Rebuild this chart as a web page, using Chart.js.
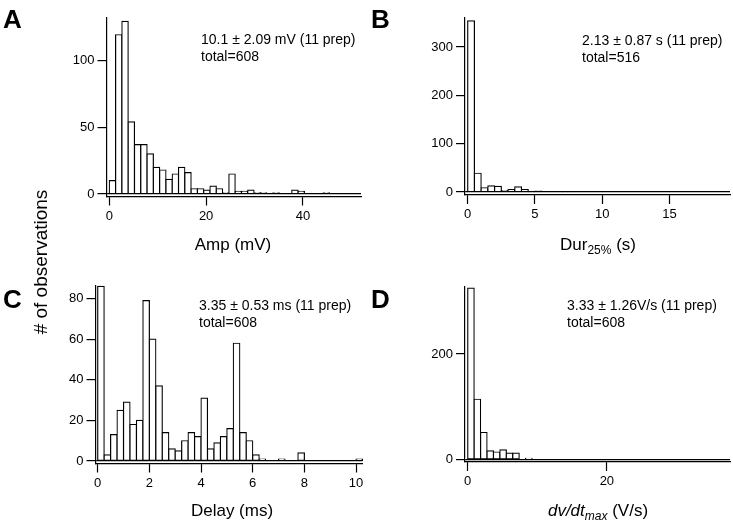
<!DOCTYPE html>
<html>
<head>
<meta charset="utf-8">
<script src="https://cdn.jsdelivr.net/npm/chart.js@4.4.0/dist/chart.umd.min.js"></script>
<style>
  body { margin: 0; background: #fff; }
  #page { position: relative; width: 733px; height: 524px; overflow: hidden;
          font-family: 'Liberation Sans', Arial, sans-serif; color: #000; }
  canvas { position: absolute; left: 0; top: 0; }
  .txt { position: absolute; white-space: nowrap; line-height: 1; }
  .letter { font-weight: bold; font-size: 26px; }
  .note { font-size: 14px; line-height: 17px; }
  .xt { font-size: 17px; transform: translateX(-50%); }
  .yt { font-size: 19px; transform: translate(-50%, -50%) rotate(-90deg); }
  sub { font-size: 12px; vertical-align: -4px; line-height: 0; }
</style>
</head>
<body>
<div id="page">
  <canvas id="chartA" width="733" height="524"></canvas>
  <canvas id="chartB" width="733" height="524"></canvas>
  <canvas id="chartC" width="733" height="524"></canvas>
  <canvas id="chartD" width="733" height="524"></canvas>

  <div class="txt letter" style="left:3px; top:6px;">A</div>
  <div class="txt letter" style="left:371px; top:6px;">B</div>
  <div class="txt letter" style="left:3px; top:286px;">C</div>
  <div class="txt letter" style="left:371px; top:286px;">D</div>

  <div class="txt note" style="left:201px; top:31px;">10.1 ± 2.09 mV (11 prep)<br>total=608</div>
  <div class="txt note" style="left:582px; top:32px;">2.13 ± 0.87 s (11 prep)<br>total=516</div>
  <div class="txt note" style="left:199px; top:297px;">3.35 ± 0.53 ms (11 prep)<br>total=608</div>
  <div class="txt note" style="left:567px; top:297px;">3.33 ± 1.26V/s (11 prep)<br>total=608</div>

  <div class="txt xt" style="left:233px; top:236px;">Amp (mV)</div>
  <div class="txt xt" style="left:598px; top:236px;">Dur<sub>25%</sub> (s)</div>
  <div class="txt xt" style="left:232px; top:502px;">Delay (ms)</div>
  <div class="txt xt" style="left:598px; top:502px;"><i>dv/dt<sub>max</sub></i> (V/s)</div>
  <div class="txt yt" style="left:40px; top:262px;"># of observations</div>
</div>

<script>
// Amp (mV)
const ampBin = 1.3;
const ampCounts = [10, 119, 129, 54, 37, 37, 30, 20, 18, 11, 15, 20, 16, 4, 4, 3, 6, 4, 1, 15,
                   2, 2, 3, 1, 1, 0, 1, 0, 0, 3, 2, 0, 0, 0, 1, 0, 0, 0, 0, 0];
const ampTicksX = [0, 20, 40];
const ampTicksY = [0, 50, 100];

// Dur25% (s)
const durBin = 0.5;
const durCounts = [354, 39, 9, 13, 12, 3, 5, 11, 5, 1, 2, 0, 0, 0, 1, 0, 0, 0, 0, 0,
                   0, 0, 0, 0, 0, 0, 0, 0, 0, 0, 0, 0, 0, 0, 0, 0, 0, 0, 0];
const durTicksX = [0, 5, 10, 15];
const durTicksY = [0, 100, 200, 300];

// Delay (ms)
const delayBin = 0.25;
const delayCounts = [86, 3, 13, 25, 29, 18, 20, 79, 60, 37, 14, 6, 5, 10, 14, 12, 31, 6, 9, 12,
                     16, 58, 14, 10, 3, 1, 0, 0, 1, 0, 0, 4, 0, 0, 0, 0, 0, 0, 0, 0, 1];
const delayTicksX = [0, 2, 4, 6, 8, 10];
const delayTicksY = [0, 20, 40, 60, 80];

// dv/dt max (V/s)
const dvdtBin = 0.925;
const dvdtCounts = [325, 114, 51, 16, 14, 18, 12, 12, 0, 2, 0, 0, 0, 0, 0, 0, 0, 0, 0, 0,
                    0, 0, 0, 0, 0, 0, 0, 0, 0, 0, 0, 0, 0, 0, 0, 0, 0, 0, 0, 0];
const dvdtTicksX = [0, 20];
const dvdtTicksY = [0, 200];

const FONT = "'Liberation Sans', Arial, sans-serif";
const YW = 60, XH = 40;

// histogramme : une barre par classe, bords communs
function makeHist(id, counts, bin, xRange, yRange, ticksX, ticksY, area) {
    const points = counts.map((c, i) => ({ x: (i + 0.5) * bin, y: c }));
    return new Chart(document.getElementById(id), {
        type: 'bar',
        data: {
            datasets: [{
                data: points,
                backgroundColor: '#fff',
                borderColor: '#000',
                borderWidth: 1.2,
                borderSkipped: false,
                inflateAmount: 0.6,
                barPercentage: 1,
                categoryPercentage: 1,
                clip: 1
            }]
        },
        options: {
            responsive: false,
            animation: false,
            layout: {
                padding: { left: area[0] - YW, top: area[1], right: 733 - area[2], bottom: 524 - area[3] - XH }
            },
            plugins: { legend: { display: false }, tooltip: { enabled: false } },
            scales: {
                x: {
                    type: 'linear', min: xRange[0], max: xRange[1], offset: false,
                    afterBuildTicks: s => { s.ticks = ticksX.map(v => ({ value: v })); },
                    afterFit: s => { s.height = XH; },
                    grid: { offset: false, drawOnChartArea: false, tickLength: 9, tickColor: '#000', tickWidth: 1.2 },
                    border: { color: '#000', width: 1.2 },
                    ticks: { color: '#000', font: { size: 13, family: FONT }, padding: 3, maxRotation: 0, autoSkip: false }
                },
                y: {
                    type: 'linear', min: yRange[0], max: yRange[1],
                    afterBuildTicks: s => { s.ticks = ticksY.map(v => ({ value: v })); },
                    afterFit: s => { s.width = YW; },
                    // ligne de base à 0 dessinée par-dessus les barres
                    grid: {
                        z: 1, drawOnChartArea: true, tickLength: 9, tickColor: '#000', tickWidth: 1.2, lineWidth: 1.2,
                        color: ctx => (ctx.tick && ctx.tick.value === 0) ? '#000' : 'rgba(0,0,0,0)'
                    },
                    border: { z: 1, color: '#000', width: 1.2 },
                    ticks: { color: '#000', font: { size: 13, family: FONT }, padding: 3, autoSkip: false }
                }
            }
        }
    });
}

makeHist('chartA', ampCounts, ampBin, [-0.58, 52], [-1.8, 131.5], ampTicksX, ampTicksY, [106.5, 18, 361, 196.5]);
makeHist('chartB', durCounts, durBin, [-0.2, 19.5], [-6, 360], durTicksX, durTicksY, [465, 18, 730, 195]);
makeHist('chartC', delayCounts, delayBin, [-0.085, 10.25], [-1.2, 86.2], delayTicksX, delayTicksY, [95.5, 286, 362.5, 463.5]);
makeHist('chartD', dvdtCounts, dvdtBin, [-0.39, 37.7], [-5, 327], dvdtTicksX, dvdtTicksY, [465, 287, 730, 462]);
</script>
</body>
</html>
